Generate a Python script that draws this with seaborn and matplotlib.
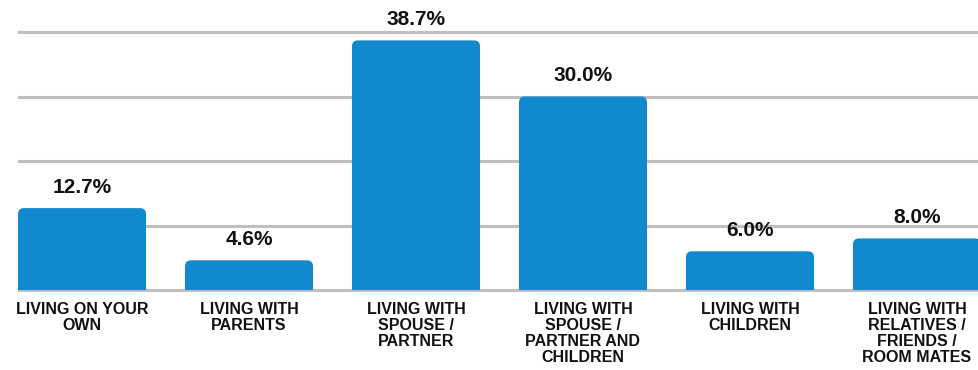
import matplotlib
matplotlib.use("Agg")
import matplotlib.pyplot as plt
import seaborn as sns
import pandas as pd
from matplotlib.path import Path
from matplotlib.patches import PathPatch

categories = [
    "LIVING ON YOUR\nOWN",
    "LIVING WITH\nPARENTS",
    "LIVING WITH\nSPOUSE /\nPARTNER",
    "LIVING WITH\nSPOUSE /\nPARTNER AND\nCHILDREN",
    "LIVING WITH\nCHILDREN",
    "LIVING WITH\nRELATIVES /\nFRIENDS /\nROOM MATES",
]
values = [12.7, 4.6, 38.7, 30.0, 6.0, 8.0]
value_labels = ["12.7%", "4.6%", "38.7%", "30.0%", "6.0%", "8.0%"]
grid_levels = [0, 10, 20, 30, 40]

BAR_COLOR = "#1289CE"
GRID_COLOR = "#BFBFBF"

sns.set_theme(style="white")
plt.rcParams["font.family"] = ["Liberation Sans", "DejaVu Sans"]

df = pd.DataFrame({"category": categories, "value": values})

W, H, DPI = 979, 370, 100
fig = plt.figure(figsize=(W / DPI, H / DPI), dpi=DPI)
ax_left, ax_bottom = 18 / W, (H - 292) / H
ax = fig.add_axes([ax_left, ax_bottom, 1.0 - ax_left, 1.0 - ax_bottom])

bar_width = 128 / 167
sns.barplot(data=df, x="category", y="value", color=BAR_COLOR,
            width=bar_width, saturation=1, ax=ax, zorder=3)

xlim = (-64 / 167, (W - 82) / 167)
ylim = (-2 / 6.45, 40 + 32 / 6.45)
ax.set_xlim(*xlim)
ax.set_ylim(*ylim)

for lvl in grid_levels:
    ax.axhline(lvl, color=GRID_COLOR, lw=2.2, zorder=1)

# swap the square bars for bars with rounded top corners
ax_w_px = W * (1.0 - ax_left)
ax_h_px = H * (1.0 - ax_bottom)
px_x = ax_w_px / (xlim[1] - xlim[0])
px_y = ax_h_px / (ylim[1] - ylim[0])
r = 6
rx, ry = r / px_x, r / px_y
for p in list(ax.patches):
    x0 = p.get_x()
    x1 = x0 + p.get_width()
    h = p.get_height()
    verts = [(x0, 0), (x0, h - ry), (x0, h), (x0 + rx, h),
             (x1 - rx, h), (x1, h), (x1, h - ry), (x1, 0), (x0, 0)]
    codes = [Path.MOVETO, Path.LINETO, Path.CURVE3, Path.CURVE3,
             Path.LINETO, Path.CURVE3, Path.CURVE3, Path.LINETO, Path.CLOSEPOLY]
    ax.add_patch(PathPatch(Path(verts, codes), facecolor=BAR_COLOR,
                           edgecolor="none", zorder=3))
    p.remove()

for i, (v, lab) in enumerate(zip(values, value_labels)):
    ax.annotate(lab, (i, v), xytext=(0, 8), textcoords="offset points",
                ha="center", va="bottom", fontsize=15, fontweight="bold",
                color="#111111", zorder=4)

ax.set_xlabel("")
ax.set_ylabel("")
ax.set_yticks([])
ax.tick_params(axis="x", length=0, pad=7)
ax.set_xticks(range(len(categories)))
ax.set_xticklabels(categories, fontsize=11.5, fontweight="bold",
                   color="#111111", linespacing=1.1)
for s in ax.spines.values():
    s.set_visible(False)

fig.savefig("out.png", dpi=DPI)
